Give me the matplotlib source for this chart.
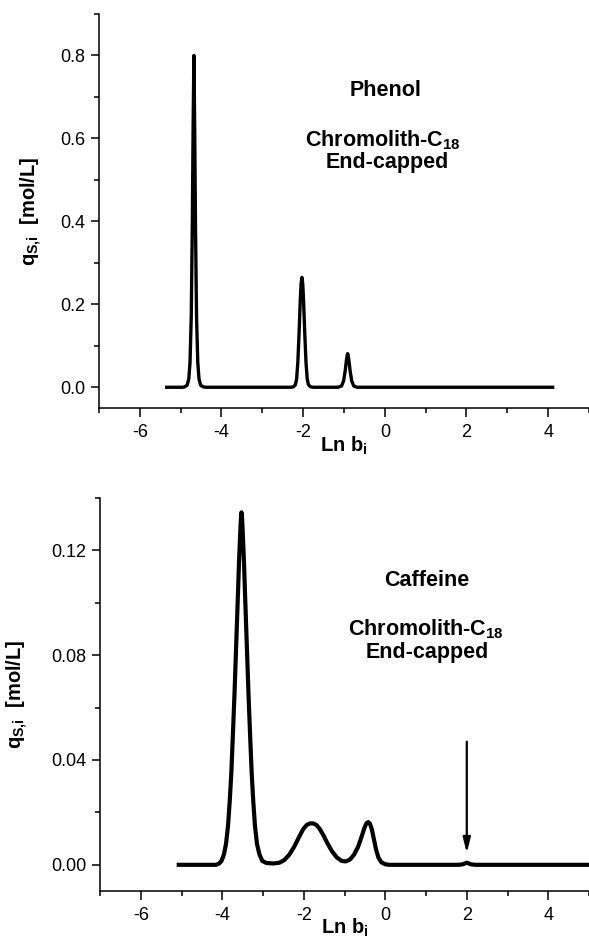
import matplotlib
matplotlib.use("Agg")
import matplotlib.pyplot as plt
from matplotlib.ticker import MultipleLocator, FormatStrFormatter

# values
phenol_lnb = [-5.34, -4.95, -4.90, -4.84, -4.80, -4.77, -4.74, -4.715, -4.695, -4.675,
              -4.655, -4.635, -4.61, -4.58, -4.55, -4.51, -4.45, -4.38,
              -2.30, -2.24, -2.19, -2.16, -2.13, -2.10, -2.07, -2.05, -2.03, -2.01,
              -1.99, -1.96, -1.93, -1.90, -1.87, -1.82, -1.75,
              -1.15, -1.06, -1.01, -0.97, -0.94, -0.92, -0.91, -0.90, -0.88, -0.85,
              -0.81, -0.76, -0.68, 4.11]
phenol_q = [0, 0, 0.001, 0.005, 0.02, 0.06, 0.17, 0.38, 0.62, 0.80,
            0.62, 0.38, 0.17, 0.06, 0.02, 0.005, 0.001, 0,
            0, 0.001, 0.006, 0.02, 0.06, 0.13, 0.21, 0.25, 0.265, 0.25,
            0.21, 0.13, 0.06, 0.02, 0.006, 0.001, 0,
            0, 0.003, 0.015, 0.04, 0.065, 0.078, 0.081, 0.078, 0.065, 0.04,
            0.015, 0.003, 0, 0]

caffeine_lnb = [-5.07, -4.15, -4.08, -4.02, -3.96, -3.91, -3.86, -3.82, -3.78, -3.74,
                -3.70, -3.66, -3.62, -3.59, -3.56, -3.545, -3.53, -3.515, -3.50, -3.47,
                -3.44, -3.40, -3.36, -3.32, -3.28, -3.24, -3.20, -3.15, -3.09, -3.02,
                -2.92, -2.75, -2.60, -2.48, -2.36, -2.24, -2.12, -2.02, -1.93, -1.85,
                -1.77, -1.69, -1.61, -1.52, -1.42, -1.31, -1.19, -1.07, -0.97, -0.87,
                -0.77, -0.67, -0.58, -0.51, -0.46, -0.42, -0.38, -0.33, -0.28, -0.23,
                -0.17, -0.10, 0.00, 0.10, 1.80, 1.90, 2.00, 2.10, 2.20, 5.0]
caffeine_q = [0, 0, 0.0005, 0.0015, 0.004, 0.008, 0.015, 0.024, 0.035, 0.050,
              0.066, 0.084, 0.102, 0.116, 0.127, 0.132, 0.1345, 0.132, 0.127, 0.116,
              0.102, 0.084, 0.066, 0.050, 0.035, 0.024, 0.015, 0.008, 0.004, 0.0015,
              0.0007, 0.0005, 0.0008, 0.0018, 0.0038, 0.0068, 0.0105, 0.0135, 0.0152, 0.0158,
              0.0158, 0.0152, 0.0137, 0.0113, 0.0082, 0.0052, 0.0028, 0.0015, 0.0013, 0.0020,
              0.0038, 0.0068, 0.0108, 0.0142, 0.0159, 0.0163, 0.0158, 0.0135, 0.0098, 0.0060,
              0.0028, 0.0010, 0.0002, 0, 0, 0.0002, 0.0008, 0.0002, 0, 0]

arrow_lnb = 2.0
arrow_q = [0.047, 0.0045]

plt.rcParams['font.family'] = ['Liberation Sans', 'DejaVu Sans']
plt.rcParams['axes.unicode_minus'] = False
plt.rcParams['mathtext.fontset'] = 'custom'
plt.rcParams['mathtext.rm'] = 'Liberation Sans:bold'
plt.rcParams['mathtext.default'] = 'rm'

fig = plt.figure(figsize=(5.89, 9.39), dpi=100)
ax1 = fig.add_axes([0.168, 0.5655, 0.832, 0.4196])
ax2 = fig.add_axes([0.170, 0.0511, 0.830, 0.4186])


def style(ax):
    ax.spines['top'].set_visible(False)
    ax.spines['right'].set_visible(False)
    ax.spines['left'].set_linewidth(1.1)
    ax.spines['bottom'].set_linewidth(1.1)
    ax.set_xlim(-7, 5)
    ax.xaxis.set_major_locator(MultipleLocator(2))
    ax.xaxis.set_minor_locator(MultipleLocator(1))
    ax.xaxis.set_major_formatter(FormatStrFormatter('%d'))
    ax.tick_params(which='major', direction='out', length=6, width=1.1, labelsize=13)
    ax.tick_params(which='minor', direction='out', length=3.5, width=1.1)
    ax.tick_params(axis='x', which='major', length=6.5, pad=5)
    ax.tick_params(axis='y', which='major', pad=4)
    ax.set_xlabel('Ln b$_{i}$', fontsize=14.5, fontweight='bold')
    ax.set_ylabel('q$_{S{,}i}$  [mol/L]', fontsize=14.5, fontweight='bold')


# phenol
ax1.plot(phenol_lnb, phenol_q, color='black', lw=2.4, solid_joinstyle='round')
style(ax1)
ax1.set_ylim(-0.05, 0.9)
ax1.yaxis.set_major_locator(MultipleLocator(0.2))
ax1.yaxis.set_minor_locator(MultipleLocator(0.1))
ax1.yaxis.set_major_formatter(FormatStrFormatter('%.1f'))
ax1.yaxis.set_label_coords(-0.112, 0.5)
ax1.xaxis.set_label_coords(0.5, -0.068)
ax1.text(0.584, 0.807, 'Phenol', transform=ax1.transAxes, ha='center', va='center',
         fontsize=15.5, fontweight='bold')
ax1.text(0.58, 0.68, 'Chromolith-C$_{18}$', transform=ax1.transAxes, ha='center',
         va='center', fontsize=15.5, fontweight='bold')
ax1.text(0.588, 0.622, 'End-capped', transform=ax1.transAxes, ha='center', va='center',
         fontsize=15.5, fontweight='bold')

# caffeine
ax2.plot(caffeine_lnb, caffeine_q, color='black', lw=3.0, solid_joinstyle='round')
style(ax2)
ax2.set_ylim(-0.01, 0.14)
ax2.yaxis.set_major_locator(MultipleLocator(0.04))
ax2.yaxis.set_minor_locator(MultipleLocator(0.02))
ax2.yaxis.set_major_formatter(FormatStrFormatter('%.2f'))
ax2.yaxis.set_label_coords(-0.143, 0.5)
ax2.xaxis.set_label_coords(0.5, -0.066)
ax2.text(0.668, 0.791, 'Caffeine', transform=ax2.transAxes, ha='center', va='center',
         fontsize=15.5, fontweight='bold')
ax2.text(0.667, 0.667, 'Chromolith-C$_{18}$', transform=ax2.transAxes, ha='center',
         va='center', fontsize=15.5, fontweight='bold')
ax2.text(0.67, 0.606, 'End-capped', transform=ax2.transAxes, ha='center', va='center',
         fontsize=15.5, fontweight='bold')
ax2.annotate('', xy=(arrow_lnb, arrow_q[1]), xytext=(arrow_lnb, arrow_q[0]),
             arrowprops=dict(arrowstyle='-|>,head_length=0.6,head_width=0.15',
                             mutation_scale=15, lw=1.6, color='black',
                             shrinkA=0, shrinkB=0))

plt.savefig('out.png', dpi=100)
